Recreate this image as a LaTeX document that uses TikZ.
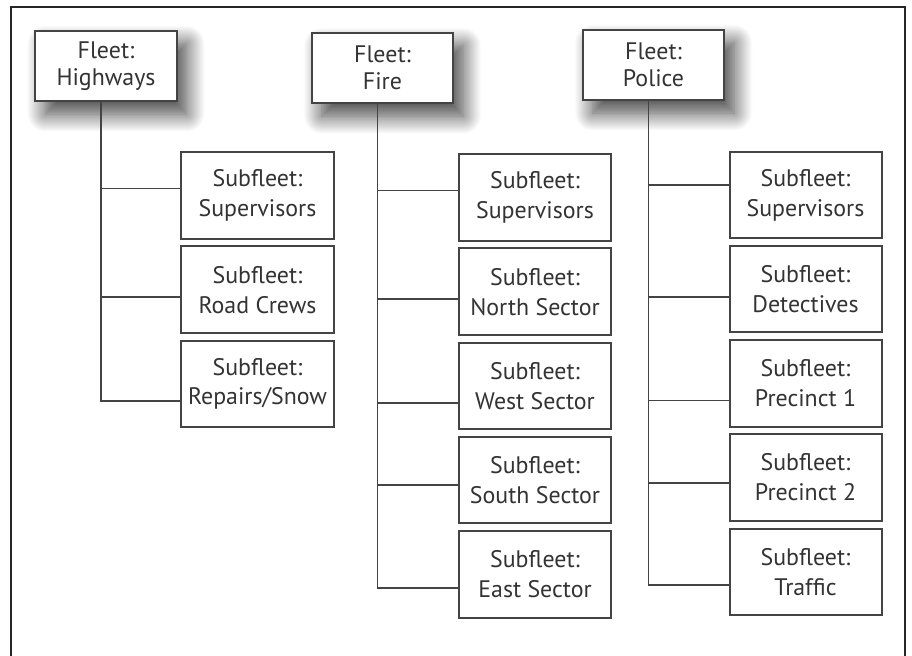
\documentclass[tikz,border=0pt]{standalone}
\usepackage{fontspec}
\setmainfont{PT Sans}
\usepackage{xcolor}
\usetikzlibrary{positioning, calc, shadows.blur}
\definecolor{inkgray}{HTML}{333333}
\definecolor{linegray}{HTML}{444444}

\begin{document}
\begin{tikzpicture}[
  x=0.25mm, y=-0.25mm,
  fleet/.style={rectangle, draw=linegray, line width=0.5mm, fill=white, text=inkgray, align=center,
                minimum width=35.4mm, minimum height=17.6mm, inner sep=2pt, outer sep=0pt,
                font=\fontsize{17}{19.5}\selectfont,
                blur shadow={shadow xshift=2.5mm, shadow yshift=-3.2mm, shadow blur radius=4.5mm,
                             shadow blur steps=24, shadow opacity=75}},
  sub/.style={rectangle, draw=linegray, line width=0.5mm, fill=white, text=inkgray, align=center,
              minimum width=38mm, minimum height=21.6mm, inner sep=2pt, outer sep=0pt,
              font=\fontsize{17}{21.3}\selectfont},
  link/.style={draw=linegray, line width=0.45mm},
  frame/.style={draw=black!85, line width=0.7mm},
]
\useasboundingbox (0,0) rectangle (912,656);
% --- outer frame (open at the bottom) ---
\draw[frame] (11,656) -- (11,7) -- (905,7) -- (905,656);
% --- fleets ---
\node[fleet] (H) at (106,66) {Fleet:\\Highways};
\node[fleet] (F) at (382.5,68) {Fleet:\\Fire};
\node[fleet] (P) at (653.5,65) {Fleet:\\Police};
% --- Highways subfleets ---
\node[sub] (H1) at (257.5,195.5) {Subfleet:\\Supervisors};
\node[sub, below=1.95mm of H1] (H2) {Subfleet:\\Road Crews};
\node[sub, below=1.95mm of H2] (H3) {Subfleet:\\Repairs/Snow};
% --- Fire subfleets ---
\node[sub] (F1) at (535,197.5) {Subfleet:\\Supervisors};
\node[sub, below=1.95mm of F1] (F2) {Subfleet:\\North Sector};
\node[sub, below=1.95mm of F2] (F3) {Subfleet:\\West Sector};
\node[sub, below=1.95mm of F3] (F4) {Subfleet:\\South Sector};
\node[sub, below=1.95mm of F4] (F5) {Subfleet:\\East Sector};
% --- Police subfleets ---
\node[sub] (P1) at (805.5,195) {Subfleet:\\Supervisors};
\node[sub, below=1.95mm of P1] (P2) {Subfleet:\\Detectives};
\node[sub, below=1.95mm of P2] (P3) {Subfleet:\\Precinct 1};
\node[sub, below=1.95mm of P3] (P4) {Subfleet:\\Precinct 2};
\node[sub, below=1.95mm of P4] (P5) {Subfleet:\\Traffic};
% --- trunks + branches ---
\coordinate (Ht) at ($(H.south)+(-5,0)$);
\coordinate (Ft) at ($(F.south)+(-5,0)$);
\coordinate (Pt) at ($(P.south)+(-5,0)$);
\draw[link] (Ht) |- ($(H1.west)+(0,-7)$);
\draw[link] (Ht) |- ($(H2.west)+(0,7)$);
\draw[link] (Ht) |- ($(H3.west)+(0,17)$);
\draw[link] (Ft) |- ($(F1.west)+(0,-7)$);
\draw[link] (Ft) |- ($(F2.west)+(0,7)$);
\draw[link] (Ft) |- ($(F3.west)+(0,17)$);
\draw[link] (Ft) |- ($(F4.west)+(0,5)$);
\draw[link] (Ft) |- ($(F5.west)+(0,14)$);
\draw[link] (Pt) |- ($(P1.west)+(0,-10)$);
\draw[link] (Pt) |- ($(P2.west)+(0,8)$);
\draw[link] (Pt) |- ($(P3.west)+(0,17)$);
\draw[link] (Pt) |- ($(P4.west)+(0,5)$);
\draw[link] (Pt) |- ($(P5.west)+(0,13)$);
\end{tikzpicture}
\end{document}
